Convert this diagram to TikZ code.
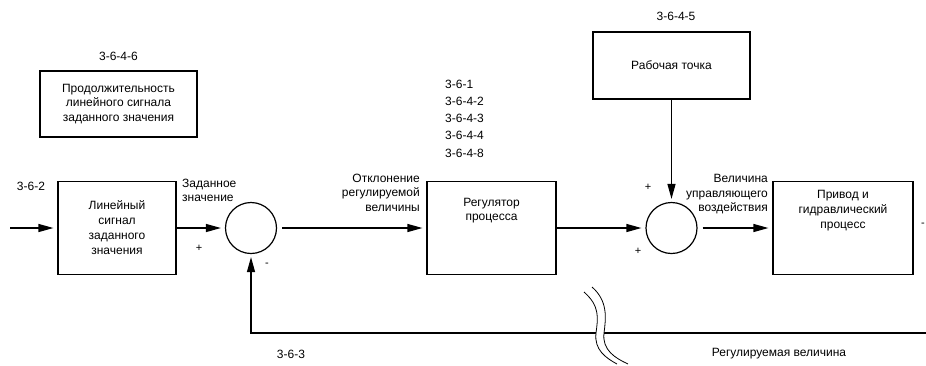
\documentclass[tikz,border=0pt]{standalone}
\usepackage{fontspec}
\setmainfont{Liberation Sans}
\usepackage{tikz}
\usetikzlibrary{arrows.meta, positioning, calc}
\definecolor{InkBlack}{RGB}{0, 0, 0}

\begin{document}
\begin{tikzpicture}[
    x=1pt, y=-1pt,
    font=\fontsize{12}{14.5}\selectfont,
    blockbox/.style={draw=InkBlack, line width=1.2pt, inner sep=0pt, align=center},
    sumnode/.style={circle, draw=InkBlack, line width=1.2pt, minimum size=51pt, inner sep=0pt},
    sigline/.style={line width=1.3pt, draw=InkBlack, -{Triangle[length=15pt, width=8pt]}, shorten >=4pt},
    signmark/.style={inner sep=0pt, font=\fontsize{11}{11}\selectfont}
  ]
  \useasboundingbox (0,0) rectangle (926,365);

  % blocks
  \node[blockbox, minimum width=157pt, minimum height=66pt] (durbox) at (118.5,104)
    {Продолжительность\\линейного сигнала\\заданного значения};
  \node[blockbox, minimum width=118pt, minimum height=93pt,
        font=\fontsize{12}{15}\selectfont] (rampbox) at (117,228)
    {Линейный\\сигнал\\заданного\\значения};
  \node[blockbox, minimum width=129pt, minimum height=93pt,
        label={[name=regtxt, align=center, anchor=north, yshift=-14pt,
                font=\fontsize{12}{13.5}\selectfont]north:Регулятор\\процесса}] (regbox) at (491.5,228) {};
  \node[blockbox, minimum width=157pt, minimum height=67pt] (opbox) at (671.5,65.5) {Рабочая точка};
  \node[blockbox, minimum width=140pt, minimum height=93pt,
        label={[name=drvtxt, align=center, anchor=north, yshift=-6pt,
                font=\fontsize{12}{15}\selectfont]north:Привод и\\гидравлический\\процесс}] (drivebox) at (843,228) {};

  % summing points
  \node[sumnode] (sumA) at (251,228) {};
  \node[sumnode] (sumB) at (671.5,228) {};

  \coordinate (inpt) at (10,228);
  \coordinate (fbend) at (926,333);

  % signal lines
  \draw[sigline] (inpt) -- (rampbox);
  \draw[sigline] (rampbox) -- (sumA);
  \draw[sigline, shorten <=5pt] (sumA) -- (regbox);
  \draw[sigline] (regbox) -- (sumB);
  \draw[sigline, shorten <=5pt] (sumB) -- (drivebox);
  \draw[sigline, shorten >=3pt] (opbox) -- (sumB);
  \draw[sigline, shorten >=3pt] (fbend) -- (fbend -| sumA) -- (sumA);

  % break mark on the feedback line
  \fill[white] (584,292) .. controls (600,306) and (598,318) .. (596,333)
    .. controls (594,350) and (606,358) .. (617,364) -- (628,364)
    .. controls (615,358) and (602,350) .. (604,333)
    .. controls (606,318) and (608,301) .. (592,287) -- cycle;
  \draw[line width=0.8pt] (584,292) .. controls (600,306) and (598,318) .. (596,333)
    .. controls (594,350) and (606,358) .. (617,364);
  \draw[line width=0.8pt] (592,287) .. controls (608,301) and (606,318) .. (604,333)
    .. controls (602,350) and (615,358) .. (628,364);

  % reference numbers
  \node[inner sep=0pt, above=10pt of durbox] (refdur) {3-6-4-6};
  \node[inner sep=0pt] (refin) at (31,186) {3-6-2};
  \node[inner sep=0pt, anchor=west, align=left, font=\fontsize{12}{17.25}\selectfont] (reflist) at (445,118.5)
    {3-6-1\\3-6-4-2\\3-6-4-3\\3-6-4-4\\3-6-4-8};
  \node[inner sep=0pt] (refop) at (676,16) {3-6-4-5};
  \node[inner sep=0pt] (reffb) at (291,354) {3-6-3};

  % signal names
  \node[inner sep=0pt, anchor=west, align=left, font=\fontsize{12}{14}\selectfont] (setlbl) at (182,190)
    {Заданное\\значение};
  \node[inner sep=0pt, anchor=east, align=right] (devlbl) at (420,192.5)
    {Отклонение\\регулируемой\\величины};
  \node[inner sep=0pt, anchor=east, align=right] (ctrllbl) at (768,194.5)
    {Величина\\управляющего\\воздействия};
  \node[inner sep=0pt] (pvlbl) at (779,354) {Регулируемая величина};

  % signs
  \node[signmark] (plusA) at (199,248) {+};
  \node[signmark] (minusA) at (267,265) {-};
  \node[signmark] (plusB) at (648,187) {+};
  \node[signmark] (plusC) at (638,251) {+};
  \node[signmark] (minusout) at (923,225) {-};
\end{tikzpicture}
\end{document}
